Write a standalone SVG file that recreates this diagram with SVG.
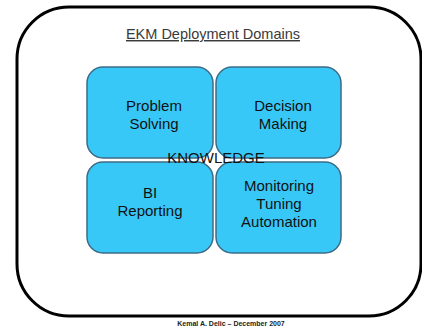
<svg xmlns="http://www.w3.org/2000/svg" width="422" height="329" viewBox="0 0 422 329">
  <style>
    .box { fill: #38c8f8; stroke: #3b6c86; stroke-width: 1.5; }
    .lbl { font-family: "Liberation Sans", Arial, sans-serif; font-size: 15px; fill: #111; text-anchor: middle; }
  </style>
  <rect x="0" y="0" width="422" height="329" fill="#ffffff"/>
  <g id="frame">
    <rect x="17" y="7" width="404" height="309" rx="52" ry="52" fill="none" stroke="#000" stroke-width="3"/>
  </g>
  <g id="title">
    <text x="213" y="39" font-family="Liberation Sans, Arial, sans-serif" font-size="14.5" fill="#3a3a3a" text-anchor="middle" text-decoration="underline">EKM Deployment Domains</text>
  </g>
  <g id="problem-solving">
    <rect class="box" x="87" y="67" width="126" height="91" rx="16"/>
    <text class="lbl" x="154" y="111">Problem</text>
    <text class="lbl" x="154" y="129">Solving</text>
  </g>
  <g id="decision-making">
    <rect class="box" x="216" y="67" width="125" height="91" rx="16"/>
    <text class="lbl" x="283" y="111">Decision</text>
    <text class="lbl" x="283" y="129">Making</text>
  </g>
  <g id="bi-reporting">
    <rect class="box" x="87" y="162" width="126" height="91" rx="16"/>
    <text class="lbl" x="150" y="198">BI</text>
    <text class="lbl" x="150" y="216">Reporting</text>
  </g>
  <g id="monitoring">
    <rect class="box" x="216" y="162" width="125" height="91" rx="16"/>
    <text class="lbl" x="279" y="191">Monitoring</text>
    <text class="lbl" x="279" y="209">Tuning</text>
    <text class="lbl" x="279" y="227">Automation</text>
  </g>
  <g id="knowledge">
    <text class="lbl" x="216" y="163" fill="#222">KNOWLEDGE</text>
  </g>
  <g id="connectors"></g>
  <g id="footer">
    <text x="231" y="326" font-family="Liberation Sans, Arial, sans-serif" font-size="7" font-weight="bold" fill="#222" text-anchor="middle">Kemal A. Delic – December 2007</text>
  </g>
</svg>
